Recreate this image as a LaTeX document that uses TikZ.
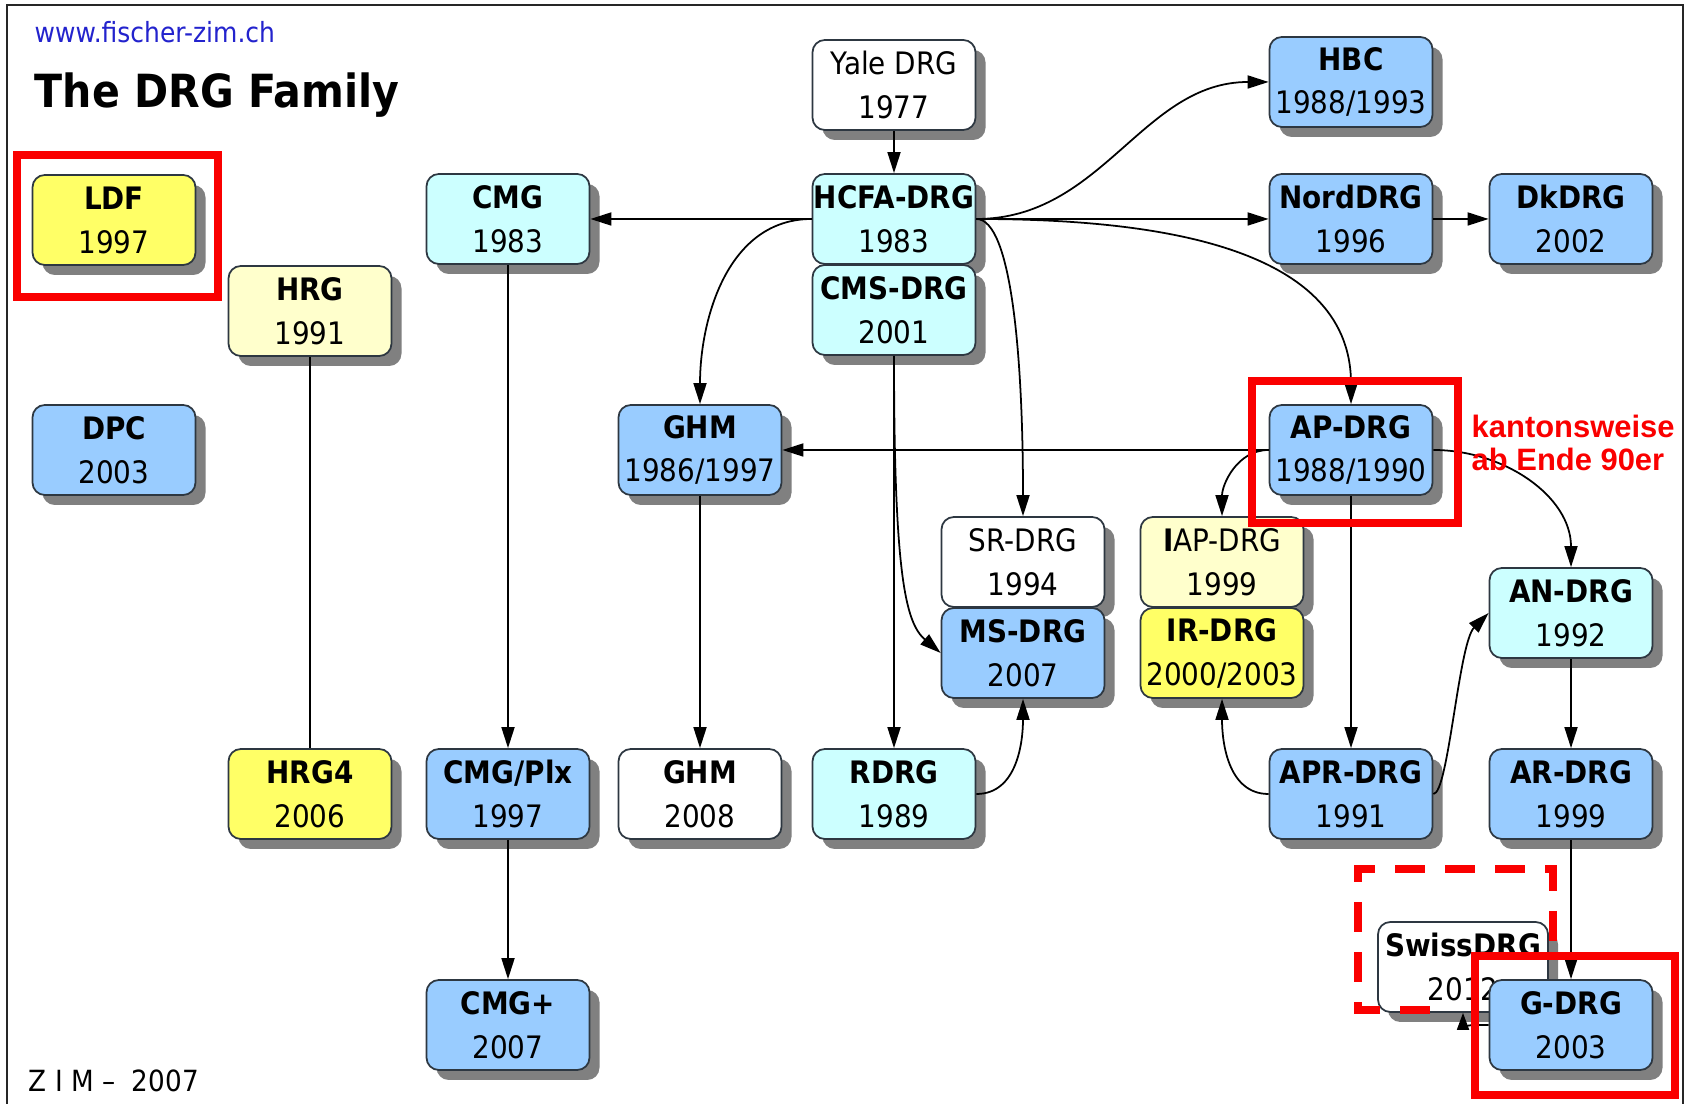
\documentclass[tikz,border=0pt]{standalone}
\usepackage{fontspec}
\setmainfont{DejaVu Sans}[FakeStretch=0.9]
\newfontfamily\notefont{Liberation Sans}
\usepackage{xcolor}
\usepackage{tikz}
\usetikzlibrary{arrows.meta, shadows}
\definecolor{drgblue}{RGB}{153,204,255}
\definecolor{drgcyan}{RGB}{204,255,255}
\definecolor{drgyellow}{RGB}{255,255,102}
\definecolor{drgpale}{RGB}{255,255,204}
\definecolor{drgline}{RGB}{45,55,65}
\definecolor{drgshadow}{RGB}{128,128,128}
\definecolor{webblue}{RGB}{35,35,205}
\definecolor{markred}{RGB}{250,0,0}
\tikzset{
  drgbox/.style={rectangle, draw=drgline, line width=0.5pt,
    rounded corners=3.5pt, minimum width=1.63cm, minimum height=0.90cm,
    inner sep=0pt, align=center, font=\fontsize{8.8}{12.5}\selectfont,
    drop shadow={shadow xshift=0.1cm, shadow yshift=-0.1cm, fill=drgshadow, opacity=1}},
  bluebox/.style={drgbox, fill=drgblue},
  cyanbox/.style={drgbox, fill=drgcyan},
  yellowbox/.style={drgbox, fill=drgyellow},
  palebox/.style={drgbox, fill=drgpale},
  whitebox/.style={drgbox, fill=white},
  arrow/.style={-{Triangle[length=0.21cm, width=0.13cm]}, line width=0.5pt},
  line/.style={line width=0.5pt},
  markbox/.style={draw=markred, line width=2.3pt},
  markdash/.style={markbox, dash pattern=on 0.3cm off 0.2cm}
}

\begin{document}
\begin{tikzpicture}
  \useasboundingbox (0,0) rectangle (16.86,-11.04);
  \draw[line width=0.6pt, color=black!85] (0.07,-11.04) -- (0.07,-0.05) -- (16.83,-0.05) -- (16.83,-11.04);

  % Header and footer
  \node[anchor=base west, inner sep=0pt, color=webblue, font=\fontsize{7.9}{9}\selectfont] (web) at (0.34,-0.43) {www.fischer-zim.ch};
  \node[anchor=base west, inner sep=0pt, font=\fontsize{13}{15}\selectfont\bfseries] (title) at (0.34,-1.075) {The DRG Family};
  \node[anchor=base west, inner sep=0pt, font=\fontsize{8.3}{10}\selectfont] (zim) at (0.28,-10.92) {Z I M –~~2007};

  % Left column
  \node[yellowbox] (ldf) at (1.14,-2.20) {\textbf{LDF}\\1997};
  \node[palebox] (hrg) at (3.10,-3.11) {\textbf{HRG}\\1991};
  \node[bluebox] (dpc) at (1.14,-4.50) {\textbf{DPC}\\2003};
  \node[cyanbox] (cmg) at (5.08,-2.19) {\textbf{CMG}\\1983};

  % HCFA family
  \node[whitebox] (yale) at (8.94,-0.85) {Yale DRG\\1977};
  \node[cyanbox] (hcfa) at (8.94,-2.19) {\textbf{HCFA-DRG}\\1983};
  \node[cyanbox] (cms) at (8.94,-3.10) {\textbf{CMS-DRG}\\2001};
  \node[bluebox] (hbc) at (13.51,-0.82) {\textbf{HBC}\\1988/1993};
  \node[bluebox] (nord) at (13.51,-2.19) {\textbf{NordDRG}\\1996};
  \node[bluebox] (dk) at (15.71,-2.19) {\textbf{DkDRG}\\2002};
  \node[bluebox] (ghm) at (7.00,-4.50) {\textbf{GHM}\\1986/1997};
  \node[bluebox] (ap) at (13.51,-4.50) {\textbf{AP-DRG}\\1988/1990};
  \node[whitebox] (sr) at (10.23,-5.62) {SR-DRG\\1994};
  \node[bluebox] (ms) at (10.23,-6.53) {\textbf{MS-DRG}\\2007};
  \node[palebox] (iap) at (12.22,-5.62) {\textbf{I}AP-DRG\\1999};
  \node[yellowbox] (ir) at (12.22,-6.53) {\textbf{IR-DRG}\\2000/2003};
  \node[cyanbox] (an) at (15.71,-6.13) {\textbf{AN-DRG}\\1992};

  % Bottom rows
  \node[yellowbox] (hrgfour) at (3.10,-7.94) {\textbf{HRG4}\\2006};
  \node[bluebox] (cmgplx) at (5.08,-7.94) {\textbf{CMG/Plx}\\1997};
  \node[whitebox] (ghmnew) at (7.00,-7.94) {\textbf{GHM}\\2008};
  \node[cyanbox] (rdrg) at (8.94,-7.94) {\textbf{RDRG}\\1989};
  \node[bluebox] (apr) at (13.51,-7.94) {\textbf{APR-DRG}\\1991};
  \node[bluebox] (ar) at (15.71,-7.94) {\textbf{AR-DRG}\\1999};
  \node[bluebox] (cmgplus) at (5.08,-10.25) {\textbf{CMG+}\\2007};
  \node[whitebox, minimum width=1.70cm] (swiss) at (14.63,-9.67) {\textbf{SwissDRG}\\2012};
  \node[bluebox] (gdrg) at (15.71,-10.25) {\textbf{G-DRG}\\2003};

  % Links
  \draw[arrow] (yale) -- (hcfa);
  \draw[arrow] (hcfa) -- (cmg);
  \draw[arrow] (hcfa.west) to[out=180, in=90] (ghm.north);
  \draw[arrow] (hcfa.east) to[out=0, in=180] (hbc.west);
  \draw[arrow] (hcfa) -- (nord);
  \draw[arrow] (nord) -- (dk);
  \draw[arrow] (hcfa.east) to[out=0, in=90] (ap.north);
  \draw[arrow] (hcfa.east) .. controls +(0.35,0) and +(0,1.6) .. (sr.north);
  \draw[arrow] (cms) -- (rdrg);
  \draw[arrow] (cms.south) .. controls +(0,-2.2) and +(-0.35,0.3) .. (ms.west);
  \draw[arrow] (rdrg.east) to[out=0, in=-90] (ms.south);
  \draw[arrow] (cmg) -- (cmgplx);
  \draw[arrow] (cmgplx) -- (cmgplus);
  \draw[line] (hrg) -- (hrgfour);
  \draw[arrow] (ghm) -- (ghmnew);
  \draw[arrow] (ap) -- (ghm);
  \draw[arrow] (ap.west) to[out=180, in=90] (iap.north);
  \draw[arrow] (ap) -- (apr);
  \draw[arrow] (ap.east) to[out=0, in=90] (an.north);
  \draw[arrow] (apr.west) to[out=180, in=-90] (ir.south);
  \draw[arrow] (apr.east) .. controls +(0.15,0) and +(-0.3,-0.3) .. (an.west);
  \draw[arrow] (an) -- (ar);
  \draw[arrow] (ar) -- (gdrg);
  \draw[-{Triangle[length=0.17cm, width=0.12cm]}, line width=0.5pt] (gdrg.west) to[out=180, in=-90] (swiss.south);

  % Red marks
  \draw[markbox] (0.17,-1.55) rectangle (2.18,-2.97);
  \draw[markbox] (12.52,-3.81) rectangle (14.58,-5.23);
  \draw[markbox] (14.75,-9.56) rectangle (16.75,-10.95);
  \draw[markdash] (14.30,-10.10) -- (13.58,-10.10) -- (13.58,-8.69) -- (15.53,-8.69) -- (15.53,-9.56);
  \node[anchor=west, inner sep=0pt, align=left, color=markred,
    font=\notefont\bfseries\fontsize{8.8}{9.4}\selectfont] (canton) at (14.71,-4.43) {kantonsweise\\ab Ende 90er};
\end{tikzpicture}
\end{document}
